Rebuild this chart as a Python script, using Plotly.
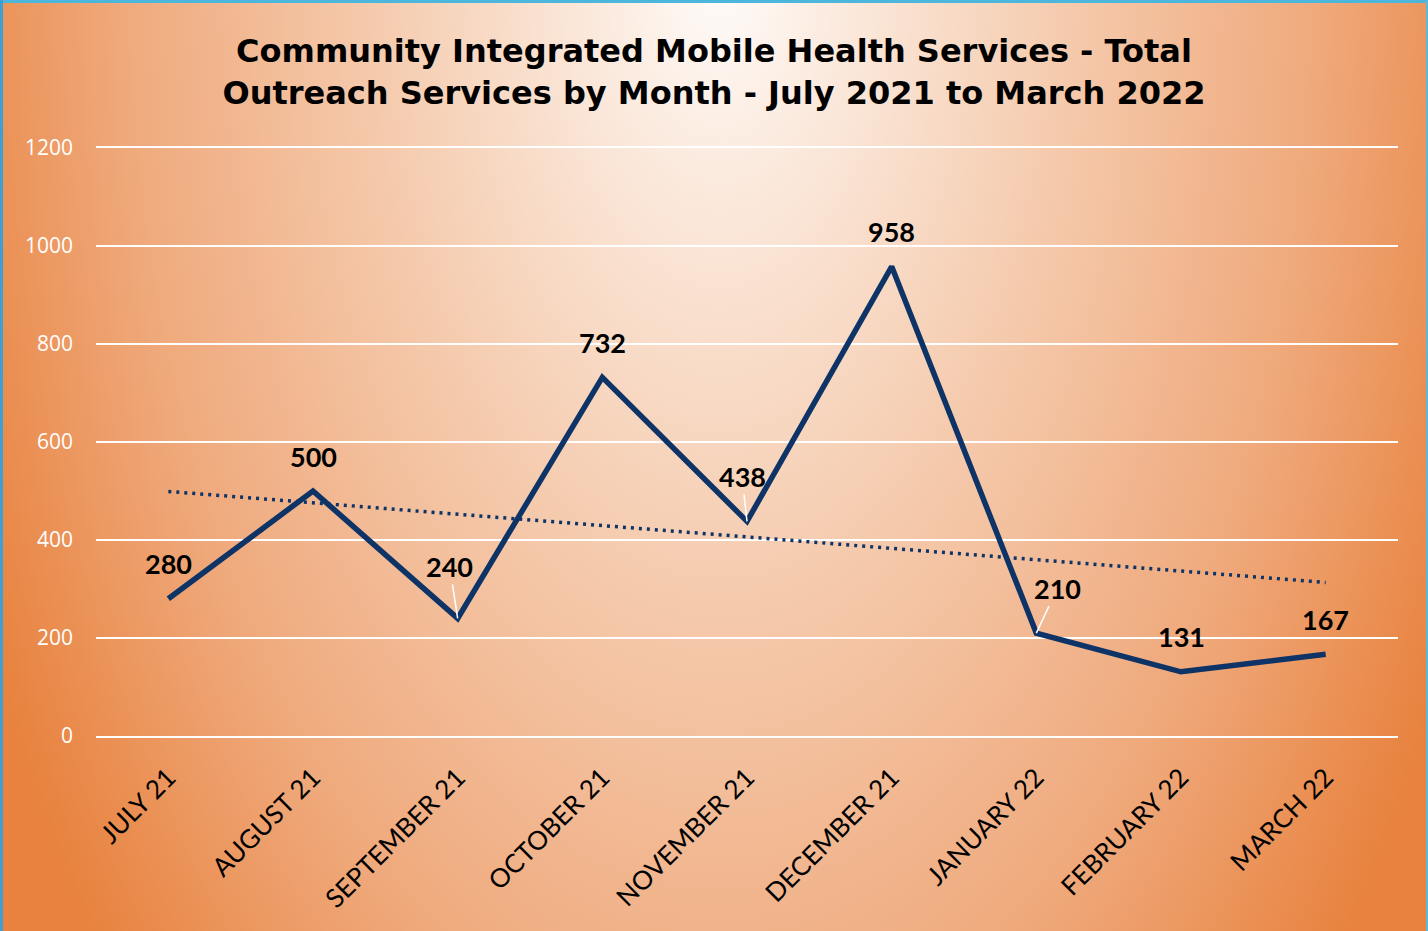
import base64
import numpy as np
import plotly.graph_objects as go

months = ["JULY 21", "AUGUST 21", "SEPTEMBER 21", "OCTOBER 21", "NOVEMBER 21",
          "DECEMBER 21", "JANUARY 22", "FEBRUARY 22", "MARCH 22"]
services = [280, 500, 240, 732, 438, 958, 210, 131, 167]
y_ticks = [0, 200, 400, 600, 800, 1000, 1200]

W, H = 1428, 931
ML, MR, MT, MB = 96, 30, 148, 195
PW, PH = W - ML - MR, H - MT - MB

# linear trendline derived from the data
xi = np.arange(len(services))
slope, intercept = np.polyfit(xi, services, 1)
trend = (slope * xi + intercept).tolist()

svg = f'''<svg xmlns="http://www.w3.org/2000/svg" width="{W}" height="{H}" viewBox="0 0 {W} {H}" preserveAspectRatio="none">
<defs>
<radialGradient id="g" gradientUnits="userSpaceOnUse" cx="720" cy="-60" r="1000"
 gradientTransform="translate(720 -60) scale(0.82 1.55) translate(-720 60)">
<stop offset="0" stop-color="#FFFFFF"/>
<stop offset="0.12" stop-color="#FCEEE4"/>
<stop offset="0.42" stop-color="#F5CBAE"/>
<stop offset="0.74" stop-color="#EFA87A"/>
<stop offset="1" stop-color="#E8823E"/>
</radialGradient>
</defs>
<rect x="0" y="0" width="{W}" height="{H}" fill="#E8823E"/>
<rect x="0" y="0" width="{W}" height="{H}" fill="url(#g)"/>
<rect x="0" y="0" width="{W}" height="3" fill="#4DB6DC"/>
<rect x="0" y="0" width="3" height="{H}" fill="#3E9FD0"/>
<rect x="{W - 2}" y="0" width="2" height="{H}" fill="#5BB8DC"/>
</svg>'''
bg_src = "data:image/svg+xml;base64," + base64.b64encode(svg.encode()).decode()

fig = go.Figure()
fig.add_trace(go.Scatter(
    x=months, y=trend, mode="lines",
    line=dict(color="#0E3366", width=3.5, dash="3px,5px"),
    hoverinfo="skip", showlegend=False))
fig.add_trace(go.Scatter(
    x=months, y=services, mode="lines",
    line=dict(color="#0E3366", width=5.5),
    showlegend=False))

leader = {2: (-8, -52), 4: (-5, -45), 6: (21, -45)}
for i, (m, v) in enumerate(zip(months, services)):
    if i in leader:
        ax, ay = leader[i]
        fig.add_annotation(x=m, y=v, text=str(v), showarrow=True, arrowhead=0,
                           arrowcolor="white", arrowwidth=1.5, ax=ax, ay=ay,
                           standoff=0,
                           font=dict(family="Lato", size=27, color="black", weight="bold"))
    else:
        fig.add_annotation(x=m, y=v, text=str(v), showarrow=False, yshift=35,
                           font=dict(family="Lato", size=27, color="black", weight="bold"))

fig.update_layout(
    width=W, height=H,
    margin=dict(l=ML, r=MR, t=MT, b=MB, autoexpand=False),
    paper_bgcolor="#E8823E",
    plot_bgcolor="rgba(0,0,0,0)",
    title=dict(text="Community Integrated Mobile Health Services - Total<br>Outreach Services by Month - July 2021 to March 2022",
               x=0.5, xanchor="center", y=1 - 62 / H, yanchor="middle",
               font=dict(family="DejaVu Sans", size=32, color="black", weight="bold")),
    images=[dict(source=bg_src, xref="paper", yref="paper",
                 x=-ML / PW, y=1 + MT / PH, sizex=W / PW, sizey=H / PH,
                 xanchor="left", yanchor="top", sizing="stretch", layer="below")],
    xaxis=dict(type="category", range=[-0.5, 8.5], showgrid=False, zeroline=False,
               showline=True, mirror=True, linecolor="white", linewidth=2,
               tickangle=-45, ticks="", ticklabelstandoff=14,
               tickfont=dict(family="Lato", size=26, color="black")),
    yaxis=dict(range=[0, 1200], tickvals=y_ticks, showgrid=True, gridcolor="white",
               gridwidth=2, zeroline=False, showline=False, ticks="",
               ticklabelstandoff=22,
               tickfont=dict(family="Open Sans", size=21, color="white")),
)

fig.write_html("out.html", config={"displayModeBar": False},
               post_script="document.body.style.margin='0';")
